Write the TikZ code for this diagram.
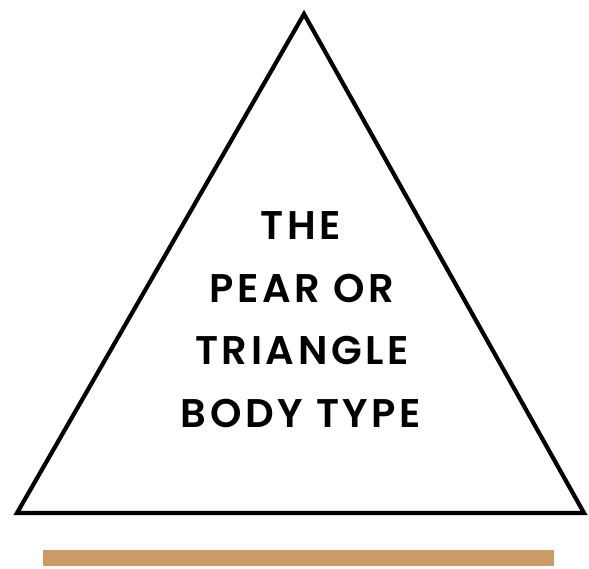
\documentclass[tikz,border=0pt]{standalone}
\usepackage{fontspec}
\setmainfont{Poppins}[UprightFont=* SemiBold, BoldFont=* Bold]
\definecolor{tan}{RGB}{203,155,106}
\tikzset{
  tri/.style={draw=black, line width=4.2pt, line join=miter},
  label/.style={font=\fontsize{40}{40}\selectfont\addfontfeature{LetterSpace=9}, anchor=base, inner sep=0pt},
}
\begin{document}
\begin{tikzpicture}[x=1pt,y=1pt]
\useasboundingbox (0,0) rectangle (589,568);
\fill[white] (0,0) rectangle (589,568);
\coordinate (apex) at (304,554);
\coordinate (bl) at (17,55);
\coordinate (br) at (584,55);
\draw[tri] (apex) -- (bl) -- (br) -- cycle;
\node[label] (l1) at (301,328) {THE};
\node[label] (l2) at (302,265) {PEAR OR};
\node[label] (l3) at (302,203) {TRIANGLE};
\node[label] (l4) at (301,140) {BODY TYPE};
\fill[tan] (43,2) rectangle (554,18);
\end{tikzpicture}
\end{document}
